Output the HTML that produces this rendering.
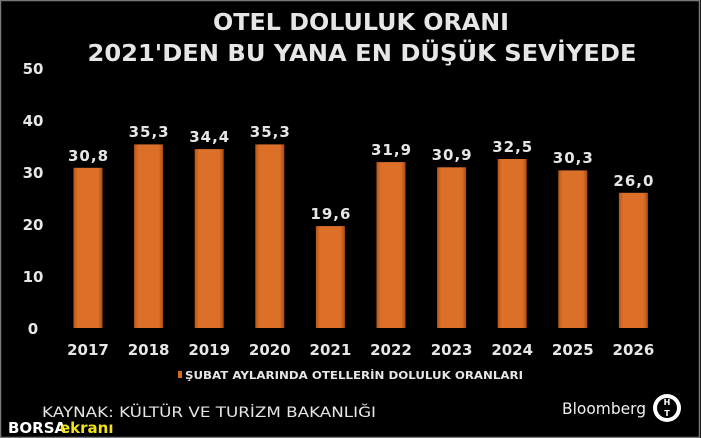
<!DOCTYPE html>
<html><head><meta charset="utf-8"><style>
html,body{margin:0;padding:0;background:#000;}
svg{display:block;}
text{font-family:"DejaVu Sans","Liberation Sans",sans-serif;font-weight:bold;fill:#e6e6e6;}
</style></head><body>
<svg width="701" height="438" viewBox="0 0 701 438" xmlns="http://www.w3.org/2000/svg">
<defs>
<linearGradient id="g" x1="0" x2="1" y1="0" y2="0">
<stop offset="0" stop-color="#b9561a"/><stop offset="0.15" stop-color="#dc7028"/><stop offset="0.85" stop-color="#dc7028"/><stop offset="1" stop-color="#a84c15"/>
</linearGradient>
</defs>
<rect x="0.5" y="0.5" width="699" height="437" fill="#000" stroke="#777" stroke-width="1.5"/>
<text x="361" y="30" font-size="23" text-anchor="middle" textLength="296" lengthAdjust="spacingAndGlyphs">OTEL DOLULUK ORANI</text>
<text x="362" y="61" font-size="23" text-anchor="middle" textLength="549" lengthAdjust="spacingAndGlyphs">2021'DEN BU YANA EN DÜŞÜK SEVİYEDE</text>
<g font-size="15" text-anchor="middle">
<text x="33" y="74">50</text><text x="33" y="126">40</text><text x="33" y="178">30</text>
<text x="33" y="230">20</text><text x="33" y="282">10</text><text x="33" y="334">0</text>
</g>
<g id="bars" font-size="15" text-anchor="middle">
<rect x="73.5" y="167.8" width="29" height="160.2" fill="url(#g)"/><text x="88" y="161" textLength="40">30,8</text><text x="88" y="355">2017</text>
<rect x="134.1" y="144.4" width="29" height="183.6" fill="url(#g)"/><text x="148.6" y="137" textLength="40">35,3</text><text x="148.6" y="355">2018</text>
<rect x="194.7" y="149.1" width="29" height="178.9" fill="url(#g)"/><text x="209.2" y="142" textLength="40">34,4</text><text x="209.2" y="355">2019</text>
<rect x="255.3" y="144.4" width="29" height="183.6" fill="url(#g)"/><text x="269.8" y="137" textLength="40">35,3</text><text x="269.8" y="355">2020</text>
<rect x="315.9" y="226.1" width="29" height="101.9" fill="url(#g)"/><text x="330.4" y="219" textLength="40">19,6</text><text x="330.4" y="355">2021</text>
<rect x="376.5" y="162.1" width="29" height="165.9" fill="url(#g)"/><text x="391" y="155" textLength="40">31,9</text><text x="391" y="355">2022</text>
<rect x="437.1" y="167.3" width="29" height="160.7" fill="url(#g)"/><text x="451.6" y="160" textLength="40">30,9</text><text x="451.6" y="355">2023</text>
<rect x="497.7" y="159" width="29" height="169" fill="url(#g)"/><text x="512.2" y="152" textLength="40">32,5</text><text x="512.2" y="355">2024</text>
<rect x="558.3" y="170.4" width="29" height="157.6" fill="url(#g)"/><text x="572.8" y="163" textLength="40">30,3</text><text x="572.8" y="355">2025</text>
<rect x="618.9" y="192.8" width="29" height="135.2" fill="url(#g)"/><text x="633.4" y="186" textLength="40">26,0</text><text x="633.4" y="355">2026</text>
</g>
<rect x="178" y="371" width="4" height="7" fill="#d2691e"/>
<text x="185" y="379" font-size="10.5" textLength="338" lengthAdjust="spacingAndGlyphs">ŞUBAT AYLARINDA OTELLERİN DOLULUK ORANLARI</text>
<text x="42" y="417" font-size="14" font-weight="normal" textLength="334" lengthAdjust="spacingAndGlyphs" style="font-weight:normal">KAYNAK: KÜLTÜR VE TURİZM BAKANLIĞI</text>
<text x="8" y="433" font-size="15" fill="#fff" style="fill:#fff">BORSA</text>
<text x="60" y="433" font-size="15" style="fill:#f2e21a">ekranı</text>
<text x="562" y="414" font-size="16" style="font-weight:normal;fill:#f0f0f0" textLength="84" lengthAdjust="spacingAndGlyphs">Bloomberg</text>
<circle cx="667" cy="408" r="14" fill="#fff"/>
<circle cx="667" cy="408" r="10" fill="#000"/>
<text x="667" y="405" font-size="8" text-anchor="middle" style="fill:#fff">H</text>
<text x="667" y="416" font-size="8" text-anchor="middle" style="fill:#fff">T</text>
</svg>
</body></html>
